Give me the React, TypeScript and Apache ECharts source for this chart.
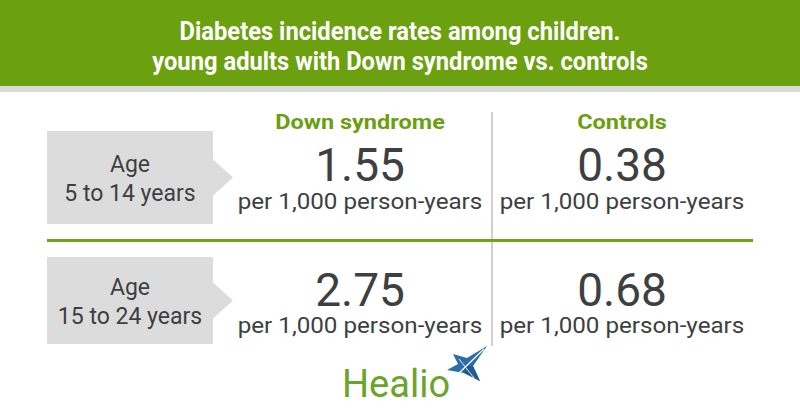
import React, { useEffect, useRef } from "react";
import * as echarts from "echarts";

const titleLines = [
  "Diabetes incidence rates among children.",
  "young adults with Down syndrome vs. controls",
];
const groups = ["Down syndrome", "Controls"];
const ageLabels = [
  ["Age", "5 to 14 years"],
  ["Age", "15 to 24 years"],
];
const downValues = ["1.55", "2.75"];
const controlValues = ["0.38", "0.68"];
const unitLabel = "per 1,000 person-years";
const brand = "Healio";

const GREEN = "#6b9e10";
const DARK = "#3d3f41";
const GRAY_BOX = "#dcdcdc";

export default function App() {
  const ref = useRef<HTMLDivElement>(null);
  useEffect(() => {
    document.body.style.margin = "0";
    const chart = echarts.init(ref.current!, null, { renderer: "svg" });
    const colX = [360, 622];
    const rowTop = [131, 257];
    const els: any[] = [];
    const txt = (
      text: string,
      x: number,
      y: number,
      font: string,
      fill: string,
      sx = 1,
      align = "center"
    ) => ({
      type: "text",
      x,
      y,
      scaleX: sx,
      style: { text, x: 0, y: 0, textAlign: align, textVerticalAlign: "middle", fill, font },
    });
    // header
    els.push({ type: "rect", shape: { x: 0, y: 0, width: 800, height: 86 }, style: { fill: "#6ba00e" } });
    els.push({ type: "rect", shape: { x: 0, y: 86, width: 800, height: 6 }, style: { fill: "#dadada" } });
    titleLines.forEach((t, i) => {
      els.push(txt(t, 400, 31 + i * 30, "bold 25px Roboto", "#ffffff", 0.95));
    });
    // group headers
    groups.forEach((g, i) => {
      els.push(txt(g, colX[i], 121, "bold 21px Roboto", GREEN, 1.12));
    });
    // vertical divider
    els.push({ type: "line", shape: { x1: 492, y1: 112, x2: 492, y2: 346 }, style: { stroke: "#a0a0a0", lineWidth: 1 } });
    // green separator
    els.push({ type: "rect", shape: { x: 47, y: 239, width: 706, height: 3 }, style: { fill: "#6fa51a" } });
    ageLabels.forEach((lab, r) => {
      const top = rowTop[r];
      const h = r === 0 ? 93 : 87;
      const mid = top + h / 2;
      els.push({
        type: "polygon",
        shape: {
          points: [
            [47, top],
            [213, top],
            [213, mid - 18],
            [233, mid],
            [213, mid + 18],
            [213, top + h],
            [47, top + h],
          ],
        },
        style: { fill: GRAY_BOX },
      });
      lab.forEach((t, k) => {
        els.push(txt(t, 130, mid - 13 + k * 29, "23px Roboto", DARK, 1.0));
      });
      const vals = [downValues[r], controlValues[r]];
      vals.forEach((v, c) => {
        els.push(txt(v, colX[c], r === 0 ? 165 : 290, "46px Roboto", DARK, 1));
        els.push(txt(unitLabel, colX[c], r === 0 ? 202 : 326, "22px Roboto", DARK, 1.1));
      });
    });
    // logo
    els.push(txt(brand, 342, 384, "38px Roboto", "#6aa52b", 1, "left"));
    els.push({
      type: "polygon",
      shape: {
        points: [
          [487, 346],
          [473, 366],
          [480, 381],
          [464, 373],
          [447, 370],
          [458, 364],
          [453, 354],
          [467, 358],
        ],
      },
      style: { fill: "#2c6ca8" },
    });
    els.push({
      type: "polygon",
      shape: { points: [[466, 366], [473, 366], [480, 381], [464, 373]] },
      style: { fill: "#1f5a93" },
    });
    els.push({ type: "line", shape: { x1: 458, y1: 374, x2: 484, y2: 349 }, style: { stroke: "#ffffff", lineWidth: 1.2 } });
    els.push({ type: "line", shape: { x1: 459, y1: 359, x2: 474, y2: 378 }, style: { stroke: "#ffffff", lineWidth: 0.9 } });

    chart.setOption({
      animation: false,
      backgroundColor: "#ffffff",
      graphic: { elements: els },
    });
    return () => chart.dispose();
  }, []);
  return <div ref={ref} style={{ width: 800, height: 420 }} />;
}
